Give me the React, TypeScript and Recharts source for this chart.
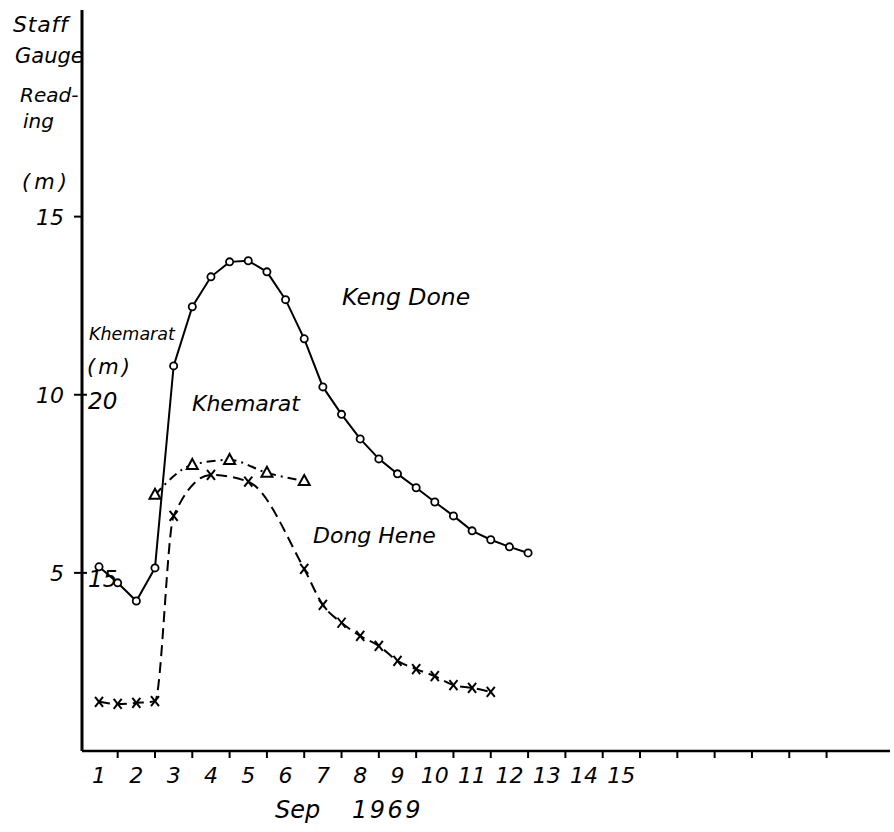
import React from 'react';
import { LineChart, Line, XAxis, YAxis } from 'recharts';

// ---- data ----
const kengDoneDays = [1, 1.5, 2, 2.5, 3, 3.5, 4, 4.5, 5, 5.5, 6, 6.5, 7, 7.5, 8, 8.5, 9, 9.5, 10, 10.5, 11, 11.5, 12, 12.5];
const kengDoneLevels = [5.17, 4.72, 4.21, 5.14, 10.81, 12.47, 13.31, 13.73, 13.76, 13.45, 12.67, 11.57, 10.22, 9.45, 8.76, 8.2, 7.78, 7.39, 6.99, 6.6, 6.18, 5.93, 5.73, 5.56];

const khemaratDays = [2.5, 3.5, 4.5, 5.5, 6.5];
const khemaratLevels = [17.19, 18.03, 18.17, 17.81, 17.58];

const dongHeneDays = [1, 1.5, 2, 2.5, 3, 4, 5, 6.5, 7, 7.5, 8, 8.5, 9, 9.5, 10, 10.5, 11, 11.5];
const dongHeneLevels = [1.38, 1.32, 1.35, 1.4, 6.6, 7.75, 7.56, 5.11, 4.1, 3.6, 3.23, 2.95, 2.53, 2.3, 2.1, 1.85, 1.77, 1.66];

const dayLabels = [1, 2, 3, 4, 5, 6, 7, 8, 9, 10, 11, 12, 13, 14, 15];
const halfDayTicks = [1.5, 2.5, 3.5, 4.5, 5.5, 6.5, 7.5, 8.5, 9.5, 10.5, 11.5, 12.5, 13.5, 14.5, 15.5, 16.5, 17.5, 18.5, 19.5, 20.5];
const stageTicks = [5, 10, 15];
const khemaratTicks = [15, 20];
const KHEMARAT_OFFSET = 10; // Khemarat scale = staff gauge scale + 10 m

const X_DOMAIN: [number, number] = [0.544, 22.2];
const Y_DOMAIN: [number, number] = [0, 20.8];

const kengDoneData = kengDoneDays.map((d, i) => ({ day: d, level: kengDoneLevels[i] }));
const khemaratData = khemaratDays.map((d, i) => ({ day: d, level: khemaratLevels[i] }));
const dongHeneData = dongHeneDays.map((d, i) => ({ day: d, level: dongHeneLevels[i] }));
const xTicks = [...dayLabels, ...halfDayTicks].sort((a, b) => a - b);

const FONT = '"DejaVu Sans", sans-serif';

const annotations = [
  { text: 'Staff', x: 13, y: 32, size: 22, ls: 0.8 },
  { text: 'Gauge', x: 15, y: 63, size: 21, ls: 0 },
  { text: 'Read-', x: 20, y: 102, size: 20, ls: 0 },
  { text: 'ing', x: 23, y: 128, size: 20, ls: 0 },
  { text: '(m)', x: 22, y: 189, size: 21, ls: 4 },
  { text: 'Khemarat', x: 89, y: 340, size: 17.5, ls: 0 },
  { text: '(m)', x: 87, y: 374, size: 21, ls: 3 },
  { text: 'Keng Done', x: 342, y: 305, size: 23.5, ls: 0 },
  { text: 'Khemarat', x: 192, y: 411, size: 22, ls: 0 },
  { text: 'Dong Hene', x: 313, y: 543, size: 22, ls: 0 },
  { text: 'Sep', x: 275, y: 818, size: 24, ls: 0 },
  { text: '1969', x: 352, y: 818, size: 24, ls: 2.5 },
];

const CircleDot = (p: any) => {
  if (p.cx == null || p.cy == null) return null;
  return <circle key={`c-${p.index}`} cx={p.cx} cy={p.cy} r={3.6} fill="#fff" stroke="#000" strokeWidth={1.8} />;
};

const TriangleDot = (p: any) => {
  if (p.cx == null || p.cy == null) return null;
  const { cx, cy } = p;
  return (
    <path
      key={`t-${p.index}`}
      d={`M${cx},${cy - 6} L${cx + 5.5},${cy + 4} L${cx - 5.5},${cy + 4} Z`}
      fill="#fff"
      stroke="#000"
      strokeWidth={2}
    />
  );
};

const CrossDot = (p: any) => {
  if (p.cx == null || p.cy == null) return null;
  const { cx, cy } = p;
  return (
    <g key={`x-${p.index}`}>
      <line x1={cx - 4} y1={cy - 5} x2={cx + 4} y2={cy + 5} stroke="#000" strokeWidth={2} />
      <line x1={cx + 4} y1={cy - 5} x2={cx - 4} y2={cy + 5} stroke="#000" strokeWidth={2} />
    </g>
  );
};

const DayTick = (p: any) => {
  const { x, y, payload } = p;
  const v = payload.value;
  if (Number.isInteger(v)) {
    return (
      <text x={x} y={y + 32} textAnchor="middle" fontFamily={FONT} fontStyle="italic" fontSize={22} fill="#000">
        {v}
      </text>
    );
  }
  return <line x1={x} x2={x} y1={y} y2={y + 7} stroke="#000" strokeWidth={2} />;
};

const StageTick = (p: any) => {
  const { x, y, payload } = p;
  const v = payload.value;
  const kh = khemaratTicks.find((k) => k - KHEMARAT_OFFSET === v);
  return (
    <g>
      <line x1={x - 8} x2={x} y1={y} y2={y} stroke="#000" strokeWidth={2} />
      <text x={x - 18} y={y + 8} textAnchor="end" fontFamily={FONT} fontStyle="italic" fontSize={22} fill="#000">
        {v}
      </text>
      {kh !== undefined && (
        <g>
          <line x1={x} x2={x + 5} y1={y} y2={y} stroke="#000" strokeWidth={2} />
          <text x={x + 6} y={y + 14} textAnchor="start" fontFamily={FONT} fontStyle="italic" fontSize={23} fill="#000">
            {kh}
          </text>
        </g>
      )}
    </g>
  );
};

export default function App() {
  return (
    <div style={{ position: 'absolute', left: 0, top: 0, width: 894, height: 832, background: '#fff' }}>
      <LineChart width={894} height={832} margin={{ top: 10, right: 4, bottom: 41, left: 22 }}>
        <XAxis
          dataKey="day"
          type="number"
          domain={X_DOMAIN}
          allowDataOverflow
          ticks={xTicks}
          interval={0}
          tickSize={0}
          tickMargin={0}
          tickLine={false}
          axisLine={{ stroke: '#000', strokeWidth: 2.5 }}
          height={40}
          tick={<DayTick />}
        />
        <YAxis
          yAxisId="main"
          type="number"
          domain={Y_DOMAIN}
          allowDataOverflow
          ticks={stageTicks}
          interval={0}
          tickSize={0}
          tickMargin={0}
          tickLine={false}
          axisLine={{ stroke: '#000', strokeWidth: 3 }}
          width={60}
          tick={<StageTick />}
        />
        <YAxis
          yAxisId="kh"
          orientation="right"
          type="number"
          hide
          width={0}
          domain={[Y_DOMAIN[0] + KHEMARAT_OFFSET, Y_DOMAIN[1] + KHEMARAT_OFFSET]}
          allowDataOverflow
        />
        <Line
          yAxisId="main"
          data={dongHeneData}
          dataKey="level"
          type="monotone"
          stroke="#000"
          strokeWidth={2}
          strokeDasharray="11 6"
          dot={CrossDot}
          activeDot={false}
          isAnimationActive={false}
        />
        <Line
          yAxisId="kh"
          data={khemaratData}
          dataKey="level"
          type="monotone"
          stroke="#000"
          strokeWidth={2}
          strokeDasharray="9 5 2 5"
          dot={TriangleDot}
          activeDot={false}
          isAnimationActive={false}
        />
        <Line
          yAxisId="main"
          data={kengDoneData}
          dataKey="level"
          type="linear"
          stroke="#000"
          strokeWidth={2}
          dot={CircleDot}
          activeDot={false}
          isAnimationActive={false}
        />
      </LineChart>
      <svg
        width={894}
        height={832}
        style={{ position: 'absolute', left: 0, top: 0, pointerEvents: 'none' }}
      >
        {annotations.map((a, i) => (
          <text
            key={i}
            x={a.x}
            y={a.y}
            fontFamily={FONT}
            fontStyle="italic"
            fontSize={a.size}
            letterSpacing={a.ls}
            fill="#000"
          >
            {a.text}
          </text>
        ))}
      </svg>
    </div>
  );
}
